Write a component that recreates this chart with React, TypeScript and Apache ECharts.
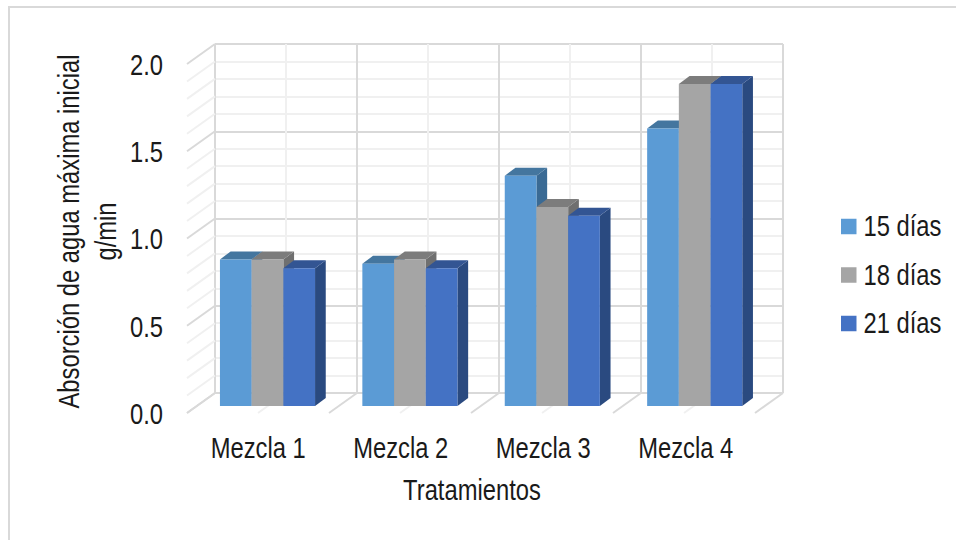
import React, { useEffect, useRef } from "react";
import * as echarts from "echarts";

const categories = ["Mezcla 1", "Mezcla 2", "Mezcla 3", "Mezcla 4"];
const seriesNames = ["15 días", "18 días", "21 días"];
const values15 = [0.84, 0.815, 1.32, 1.59];
const values18 = [0.84, 0.84, 1.14, 1.845];
const values21 = [0.79, 0.79, 1.09, 1.845];
const yTicks = [0, 0.5, 1, 1.5, 2];
const minorY = [0.1, 0.2, 0.3, 0.4, 0.6, 0.7, 0.8, 0.9, 1.1, 1.2, 1.3, 1.4, 1.6, 1.7, 1.8, 1.9];
const floorMajor = [0, 1, 2, 3, 4];
const floorMinor = [0.5, 1.5, 2.5, 3.5];
const frontColors = ["#5B9BD5", "#A5A5A5", "#4472C4"];
const topColors = ["#44769F", "#7C7C7C", "#335593"];
const sideColors = ["#3A6A94", "#6F6F6F", "#2A4A80"];

const FONT = "'Liberation Sans', Arial, sans-serif";
const NARROW = 0.82;
const BAR_W = 31.7;
const DX = 10.7;
const DY = 8;
const WALL_DX = 28;
const WALL_DY = 20;

const barItem = (idx: number) => (params: any, api: any) => {
  const cat = api.value(0);
  const val = api.value(1);
  const base = api.coord([cat, 0]);
  const top = api.coord([cat, val]);
  const x0 = base[0] - BAR_W * 1.5 + idx * BAR_W;
  const x1 = x0 + BAR_W;
  return {
    type: "group",
    children: [
      { type: "polygon", shape: { points: [[x1, top[1]], [x1 + DX, top[1] - DY], [x1 + DX, base[1] - DY], [x1, base[1]]] }, style: { fill: sideColors[idx] } },
      { type: "polygon", shape: { points: [[x0, top[1]], [x0 + DX, top[1] - DY], [x1 + DX, top[1] - DY], [x1, top[1]]] }, style: { fill: topColors[idx] } },
      { type: "rect", shape: { x: x0, y: top[1], width: BAR_W, height: base[1] - top[1] }, style: { fill: frontColors[idx] } },
    ],
  };
};

const diagItem = (color: string, width: number, dir: "y" | "x") => (params: any, api: any) => {
  const v = api.value(0);
  const p = dir === "y" ? api.coord([0, v]) : api.coord([v, 0]);
  return {
    type: "line",
    shape: { x1: p[0], y1: p[1], x2: p[0] - WALL_DX, y2: p[1] + WALL_DY },
    style: { stroke: color, lineWidth: width },
  };
};

export default function App() {
  const ref = useRef<HTMLDivElement>(null);
  useEffect(() => {
    const chart = echarts.init(ref.current!, undefined, { renderer: "svg" });
    const textStyle = { color: "#1a1a1a", fontFamily: FONT, fontSize: 29 };
    const hidden = { show: false };
    chart.setOption({
      animation: false,
      backgroundColor: "#fff",
      graphic: [
        { type: "line", shape: { x1: 8, y1: 7, x2: 956, y2: 7 }, style: { stroke: "#D9D9D9", lineWidth: 2 }, z: -1 },
        { type: "line", shape: { x1: 9, y1: 7, x2: 9, y2: 540 }, style: { stroke: "#D9D9D9", lineWidth: 2 }, z: -1 },
      ],
      grid: [
        { left: 215, width: 568, top: 44, height: 349 },
        { left: 187, width: 570, top: 65, height: 349 },
        { left: 196.3, width: 569.6, top: 57, height: 349 },
      ],
      xAxis: [
        {
          type: "value", gridIndex: 0, min: 0, max: 4, interval: 1,
          axisLine: hidden, axisTick: hidden, axisLabel: hidden,
          splitLine: { show: true, lineStyle: { color: "#D9D9D9", width: 2 } },
          minorTick: { show: false, splitNumber: 2 },
          minorSplitLine: { show: true, lineStyle: { color: "#F0F0F0", width: 2 } },
        },
        {
          type: "category", gridIndex: 1, data: categories,
          axisLine: hidden, axisTick: hidden,
          axisLabel: { ...textStyle, margin: 20, interval: 0, hideOverlap: false },
          name: "Tratamientos", nameLocation: "middle", nameGap: 62,
          nameTextStyle: textStyle,
        },
        {
          type: "category", gridIndex: 2, data: categories,
          axisLine: hidden, axisTick: hidden, axisLabel: hidden,
        },
      ],
      yAxis: [
        {
          type: "value", gridIndex: 0, min: 0, max: 2, interval: 0.5,
          axisLine: hidden, axisTick: hidden, axisLabel: hidden,
          splitLine: { show: true, lineStyle: { color: "#D9D9D9", width: 2 } },
          minorTick: { show: false, splitNumber: 5 },
          minorSplitLine: { show: true, lineStyle: { color: "#F0F0F0", width: 2 } },
        },
        {
          type: "value", gridIndex: 1, min: 0, max: 2, interval: 0.5,
          axisLine: hidden, axisTick: hidden, splitLine: hidden,
          axisLabel: { ...textStyle, margin: 24, formatter: (v: number) => v.toFixed(1) },
        },
        {
          type: "value", gridIndex: 2, min: 0, max: 2, interval: 0.5,
          axisLine: hidden, axisTick: hidden, axisLabel: hidden, splitLine: hidden,
          name: "Absorción de agua máxima inicial\ng/min", nameLocation: "middle", nameGap: 72,
          nameTextStyle: { ...textStyle, lineHeight: 37 },
        },
      ],
      legend: {
        orient: "vertical", left: 841, top: 212, itemWidth: 15.5, itemHeight: 15.5, itemGap: 19.5,
        icon: "rect", padding: 0,
        textStyle: { ...textStyle, padding: [0, 0, 0, 2] },
        data: seriesNames,
      },
      series: [
        { type: "custom", xAxisIndex: 0, yAxisIndex: 0, silent: true, data: minorY.map((v) => [v]), renderItem: diagItem("#F0F0F0", 2, "y"), encode: { y: 0 }, z: 1 },
        { type: "custom", xAxisIndex: 0, yAxisIndex: 0, silent: true, data: yTicks.map((v) => [v]), renderItem: diagItem("#D9D9D9", 2, "y"), encode: { y: 0 }, z: 1 },
        { type: "custom", xAxisIndex: 0, yAxisIndex: 0, silent: true, data: floorMinor.map((v) => [v]), renderItem: diagItem("#F0F0F0", 2, "x"), encode: { x: 0 }, z: 1 },
        { type: "custom", xAxisIndex: 0, yAxisIndex: 0, silent: true, data: floorMajor.map((v) => [v]), renderItem: diagItem("#D9D9D9", 2, "x"), encode: { x: 0 }, z: 1 },
        ...[values15, values18, values21].map((vals, i) => ({
          type: "custom",
          name: seriesNames[i],
          xAxisIndex: 2,
          yAxisIndex: 2,
          itemStyle: { color: frontColors[i] },
          data: vals.map((v, c) => [c, v]),
          encode: { x: 0, y: 1 },
          renderItem: barItem(i),
          z: 2 + i,
        })),
      ],
    });
    // The reference uses a condensed sans; narrow the installed Liberation Sans glyphs.
    ref.current!.querySelectorAll("text").forEach((t) => {
      const x = t.getAttribute("x") || "0";
      const tr = t.getAttribute("transform") || "";
      t.setAttribute("transform", `${tr} translate(${x} 0) scale(${NARROW} 1) translate(${-parseFloat(x)} 0)`);
    });
    return () => chart.dispose();
  }, []);
  return <div ref={ref} style={{ width: 956, height: 540, position: "fixed", left: 0, top: 0 }} />;
}
